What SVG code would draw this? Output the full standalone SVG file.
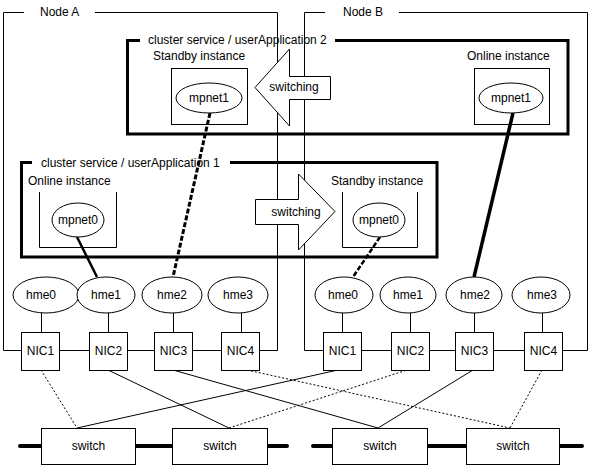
<svg xmlns="http://www.w3.org/2000/svg" width="589" height="467" viewBox="0 0 589 467">
<style>
text{font-family:"Liberation Sans",Arial,sans-serif;font-size:12px;fill:#000}
.m{text-anchor:middle}
.thin{fill:none;stroke:#000;stroke-width:1}
.box{fill:#fff;stroke:#000;stroke-width:1}
.cl{fill:none;stroke:#000;stroke-width:3}
.arrow{fill:#fff;stroke:#000;stroke-width:1}
.dot{fill:none;stroke:#000;stroke-width:1;stroke-dasharray:2,2}
.sol{fill:none;stroke:#000;stroke-width:1}
.bus{fill:none;stroke:#000;stroke-width:4;stroke-linecap:round}
</style>
<rect width="589" height="467" fill="#fff"/>

<g id="nodeA-frame">
<path class="thin" d="M24,12.5H3.5V350.5H21M95,12.5H277.5V350.5H259"/>
<text x="40" y="16">Node A</text>
</g>
<g id="nodeB-frame">
<path class="thin" d="M325,12.5H304.5V350.5H323M399,12.5H587.5V350.5H562"/>
<text x="343" y="16">Node B</text>
</g>

<g id="cluster2">
<path class="cl" d="M140,40.5H127.5V134H568V40.5H335"/>
<text x="148" y="44">cluster service / userApplication 2</text>
<text x="153" y="60">Standby instance</text>
<text x="467" y="60">Online instance</text>
</g>
<g id="cluster1">
<path class="cl" d="M32,162.5H21.5V257H437V162.5H230"/>
<text x="41" y="167">cluster service / userApplication 1</text>
<text x="28" y="185">Online instance</text>
<text x="331" y="185">Standby instance</text>
</g>

<g id="switching-left">
<polygon class="arrow" points="255,87.5 289.5,49 289.5,76.5 330.5,76.5 330.5,99.5 289.5,99.5 289.5,126"/>
<text class="m" x="294" y="91">switching</text>
</g>
<g id="switching-right">
<polygon class="arrow" points="255.5,199.5 298.5,199.5 298.5,174 335,211.5 298.5,250 298.5,224.5 255.5,224.5"/>
<text class="m" x="296" y="216">switching</text>
</g>

<g id="standby-mpnet1-A">
<rect class="thin" x="171.5" y="68.5" width="76" height="56"/>
</g>
<g id="online-mpnet1-B">
<rect class="thin" x="474.5" y="68.5" width="75" height="56"/>
</g>
<g id="online-mpnet0-A">
<path class="thin" d="M39.5,192V247.5H116.5V192"/>
</g>
<g id="standby-mpnet0-B">
<path class="thin" d="M342.5,192V247.5H417.5V192"/>
</g>

<g id="connectors">
<line x1="210" y1="113" x2="173" y2="277" stroke="#000" stroke-width="3" stroke-dasharray="5,2"/>
<line x1="77" y1="237" x2="97" y2="277" stroke="#000" stroke-width="2.5"/>
<line x1="380" y1="237" x2="353" y2="277" stroke="#000" stroke-width="2.5" stroke-dasharray="5,2"/>
<line x1="513" y1="113" x2="474" y2="277" stroke="#000" stroke-width="3.5"/>
<path class="thin" d="M41.5,313V332M108.5,313V332M173.5,313V332M241.5,313V332M342.5,313V332M410.5,313V332M474.5,313V332M542.5,313V332"/>
<path class="thin" d="M60,350.5H89M127,350.5H154M192,350.5H221M361,350.5H391M429,350.5H455M493,350.5H524"/>
<line class="dot" x1="41" y1="370" x2="77" y2="428"/>
<line class="sol" x1="108" y1="370" x2="229" y2="428"/>
<line class="sol" x1="173" y1="370" x2="378" y2="428"/>
<line class="dot" x1="247" y1="370" x2="510" y2="428"/>
<line class="sol" x1="77" y1="428" x2="338" y2="370"/>
<line class="dot" x1="229" y1="428" x2="407" y2="370"/>
<line class="sol" x1="473" y1="370" x2="378" y2="428"/>
<line class="dot" x1="542" y1="370" x2="510" y2="428"/>
<path class="bus" d="M20,446H41M135,446H172M267,446H287M313,446H332M427,446H466M559,446H582"/>
</g>

<g id="mpnet1-A"><ellipse class="box" cx="209" cy="98" rx="33" ry="15"/><text class="m" x="209" y="102">mpnet1</text></g>
<g id="mpnet1-B"><ellipse class="box" cx="511" cy="98" rx="32" ry="15"/><text class="m" x="511" y="102">mpnet1</text></g>
<g id="mpnet0-A"><ellipse class="box" cx="78" cy="220" rx="26" ry="17"/><text class="m" x="78" y="224">mpnet0</text></g>
<g id="mpnet0-B"><ellipse class="box" cx="379" cy="220" rx="26" ry="17"/><text class="m" x="379" y="224">mpnet0</text></g>

<g id="hme0-A"><ellipse class="box" cx="46" cy="295" rx="33" ry="18"/><text class="m" x="41" y="299">hme0</text></g>
<g id="hme1-A"><ellipse class="box" cx="106" cy="295" rx="29" ry="18"/><text class="m" x="106" y="299">hme1</text></g>
<g id="hme2-A"><ellipse class="box" cx="172" cy="295" rx="30" ry="18"/><text class="m" x="172" y="299">hme2</text></g>
<g id="hme3-A"><ellipse class="box" cx="238" cy="295" rx="30" ry="18"/><text class="m" x="238" y="299">hme3</text></g>
<g id="hme0-B"><ellipse class="box" cx="344" cy="295" rx="29" ry="18"/><text class="m" x="343" y="299">hme0</text></g>
<g id="hme1-B"><ellipse class="box" cx="408" cy="295" rx="28" ry="18"/><text class="m" x="408" y="299">hme1</text></g>
<g id="hme2-B"><ellipse class="box" cx="474" cy="295" rx="28" ry="18"/><text class="m" x="475" y="299">hme2</text></g>
<g id="hme3-B"><ellipse class="box" cx="541" cy="295" rx="29" ry="18"/><text class="m" x="542" y="299">hme3</text></g>

<g id="NIC1-A"><rect class="box" x="21.5" y="332.5" width="38" height="38"/><text class="m" x="40.5" y="355">NIC1</text></g>
<g id="NIC2-A"><rect class="box" x="89.5" y="332.5" width="38" height="38"/><text class="m" x="108.5" y="355">NIC2</text></g>
<g id="NIC3-A"><rect class="box" x="154.5" y="332.5" width="38" height="38"/><text class="m" x="173.5" y="355">NIC3</text></g>
<g id="NIC4-A"><rect class="box" x="221.5" y="332.5" width="38" height="38"/><text class="m" x="240.5" y="355">NIC4</text></g>
<g id="NIC1-B"><rect class="box" x="323.5" y="332.5" width="38" height="38"/><text class="m" x="342.5" y="355">NIC1</text></g>
<g id="NIC2-B"><rect class="box" x="391.5" y="332.5" width="38" height="38"/><text class="m" x="410.5" y="355">NIC2</text></g>
<g id="NIC3-B"><rect class="box" x="455.5" y="332.5" width="38" height="38"/><text class="m" x="474.5" y="355">NIC3</text></g>
<g id="NIC4-B"><rect class="box" x="524.5" y="332.5" width="38" height="38"/><text class="m" x="543.5" y="355">NIC4</text></g>

<g id="switch1"><rect class="box" x="41.5" y="428.5" width="94" height="36"/><text class="m" x="88.5" y="450">switch</text></g>
<g id="switch2"><rect class="box" x="172.5" y="428.5" width="95" height="36"/><text class="m" x="220" y="450">switch</text></g>
<g id="switch3"><rect class="box" x="332.5" y="428.5" width="95" height="36"/><text class="m" x="380" y="450">switch</text></g>
<g id="switch4"><rect class="box" x="466.5" y="428.5" width="93" height="36"/><text class="m" x="513" y="450">switch</text></g>
</svg>
